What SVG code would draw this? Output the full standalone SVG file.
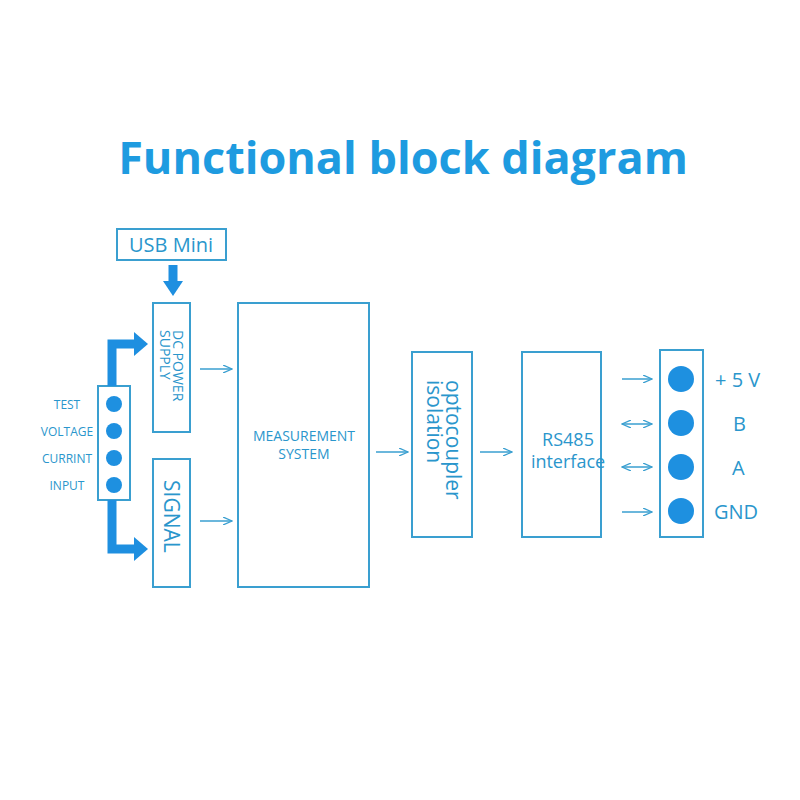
<svg xmlns="http://www.w3.org/2000/svg" width="800" height="800" viewBox="0 0 800 800">
<defs>
<marker id="ah" markerWidth="10" markerHeight="8" refX="9" refY="4" orient="auto-start-reverse" markerUnits="userSpaceOnUse"><path d="M0,0 L9,4 L0,8" fill="none" stroke="#3a9fd0" stroke-width="1.3"/></marker>
</defs>
<style>
.box{fill:#fff;stroke:#3a9fd0;stroke-width:2}
.t{font-family:"Open Sans","Liberation Sans",sans-serif;fill:#2a96cc}
.ln{stroke:#3a9fd0;stroke-width:1.5;fill:none}
.dot{fill:#1e90e0}
.thick{stroke:#1e8fe0;stroke-width:9;fill:none}
</style>
<rect width="800" height="800" fill="#fff"/>
<text x="403" y="174" text-anchor="middle" font-family="'Open Sans','Liberation Sans',sans-serif" font-weight="bold" font-size="45" fill="#1e9be0">Functional block diagram</text>
<g id="usb"><rect class="box" x="117" y="229" width="109" height="31"/><text class="t" x="171" y="252" text-anchor="middle" font-size="20">USB Mini</text></g>
<g id="dcpower"><rect class="box" x="153" y="303" width="37" height="129"/><text class="t" font-size="14" transform="translate(173,330) rotate(90)"><tspan x="0" y="0">DC POWER</tspan><tspan x="0" y="13">SUPPLY</tspan></text></g>
<g id="signal"><rect class="box" x="153" y="459" width="37" height="128"/><text class="t" font-size="21" transform="translate(164,480) rotate(90)">SIGNAL</text></g>
<g id="measurement"><rect class="box" x="238" y="303" width="131" height="284"/><text class="t" font-size="14" text-anchor="middle" x="304" y="441">MEASUREMENT</text><text class="t" font-size="14" text-anchor="middle" x="304" y="459">SYSTEM</text></g>
<g id="opto"><rect class="box" x="412" y="352" width="60" height="185"/><text class="t" font-size="21" transform="translate(446,380) rotate(90)"><tspan x="0" y="0">optocoupler</tspan><tspan x="0" y="19">isolation</tspan></text></g>
<g id="rs485"><rect class="box" x="522" y="352" width="79" height="185"/><text class="t" font-size="18" text-anchor="middle" x="568" y="446">RS485</text><text class="t" font-size="18" text-anchor="middle" x="568" y="468">interface</text></g>
<g id="output"><rect class="box" x="660" y="350" width="43" height="187"/>
<circle class="dot" cx="681" cy="379" r="13"/><circle class="dot" cx="681" cy="423" r="13"/><circle class="dot" cx="681" cy="467" r="13"/><circle class="dot" cx="681" cy="511" r="13"/>
<text class="t" font-size="20" x="715" y="387">+ 5 V</text><text class="t" font-size="20" x="733" y="431">B</text><text class="t" font-size="20" x="732" y="475">A</text><text class="t" font-size="20" x="714" y="519">GND</text></g>
<g id="input"><rect class="box" x="98" y="386" width="32" height="114"/>
<circle class="dot" cx="114" cy="404" r="8"/><circle class="dot" cx="114" cy="431" r="8"/><circle class="dot" cx="114" cy="458" r="8"/><circle class="dot" cx="114" cy="485" r="8"/>
<g class="t" font-size="12" text-anchor="middle"><text x="67" y="409">TEST</text><text x="67" y="436">VOLTAGE</text><text x="67" y="463">CURRINT</text><text x="67" y="490">INPUT</text></g></g>
<g id="connectors">
<path class="thick" d="M173,265 V283"/><polygon fill="#1e8fe0" points="163,281 183,281 173,296"/>
<path class="thick" d="M112,386 V344 H136"/><polygon fill="#1e8fe0" points="134,332 148,344 134,356"/>
<path class="thick" d="M112,500 V549 H136"/><polygon fill="#1e8fe0" points="134,537 148,549 134,561"/>
<line class="ln" x1="200" y1="369" x2="232" y2="369" marker-end="url(#ah)"/>
<line class="ln" x1="200" y1="521" x2="232" y2="521" marker-end="url(#ah)"/>
<line class="ln" x1="376" y1="452" x2="408" y2="452" marker-end="url(#ah)"/>
<line class="ln" x1="480" y1="452" x2="512" y2="452" marker-end="url(#ah)"/>
<line class="ln" x1="622" y1="379" x2="652" y2="379" marker-end="url(#ah)"/>
<line class="ln" x1="622" y1="424" x2="652" y2="424" marker-start="url(#ah)" marker-end="url(#ah)"/>
<line class="ln" x1="622" y1="467" x2="652" y2="467" marker-start="url(#ah)" marker-end="url(#ah)"/>
<line class="ln" x1="622" y1="512" x2="652" y2="512" marker-end="url(#ah)"/>
</g>
</svg>
